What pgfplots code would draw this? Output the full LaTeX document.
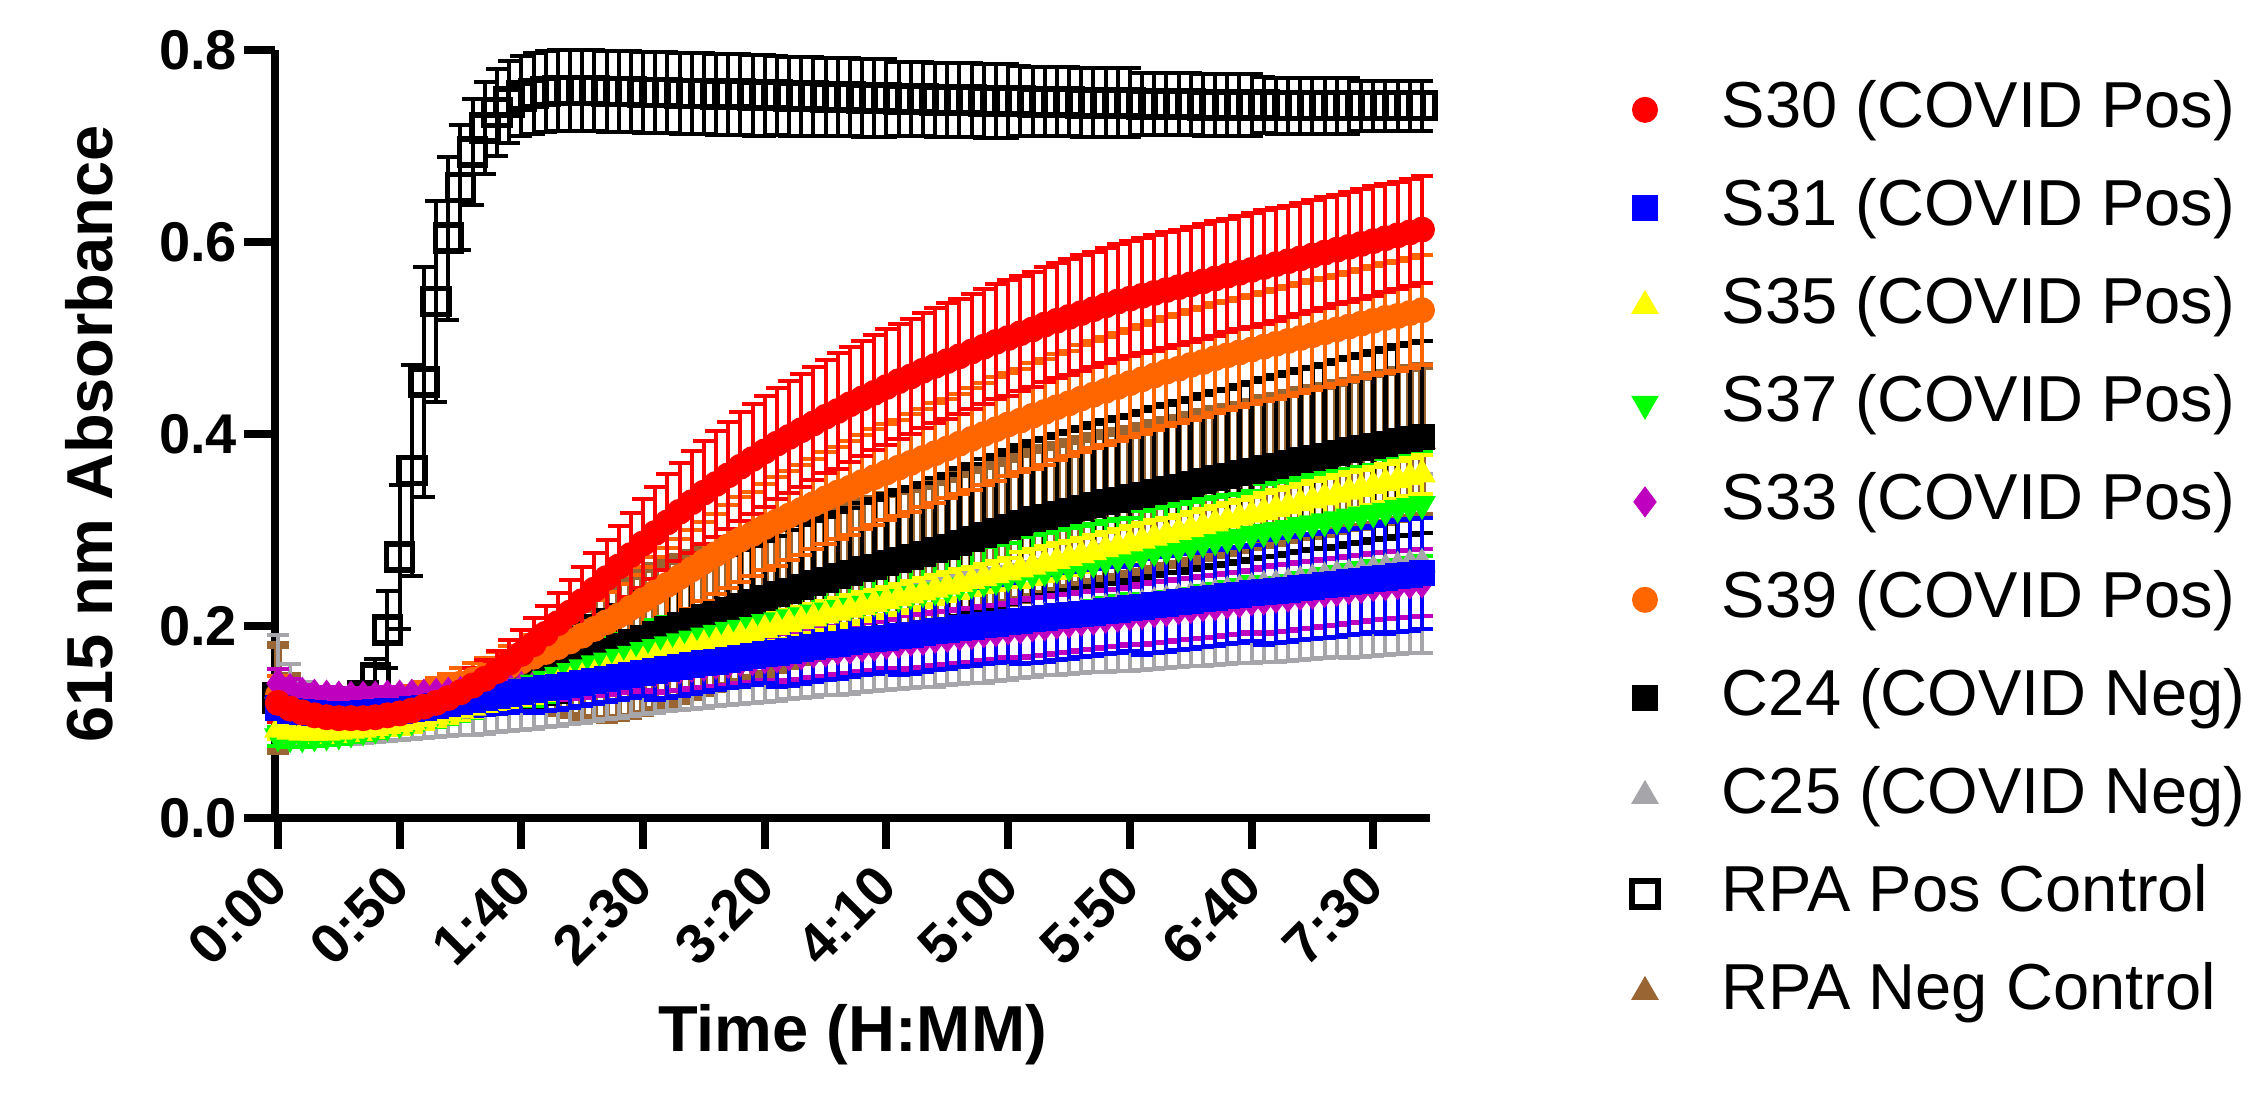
\documentclass[border=0pt]{standalone}
\usepackage{fontspec}
\setmainfont{Liberation Sans}
\usepackage{pgfplots}
\usepackage{pgfplotstable}
\pgfplotsset{compat=1.18}

\definecolor{cRed}{RGB}{255,0,0}
\definecolor{cBlue}{RGB}{0,0,255}
\definecolor{cYellow}{RGB}{255,255,0}
\definecolor{cGreen}{RGB}{0,255,0}
\definecolor{cMagenta}{RGB}{191,0,191}
\definecolor{cOrange}{RGB}{255,102,0}
\definecolor{cGrey}{RGB}{166,166,170}
\definecolor{cBrown}{RGB}{153,102,51}

% time (min), then mean and SD for each sample
\pgfplotstableread{
t R eR O eO K eK Y eY G eG B eB M eM A eA P eP N eN
0 0.120 0.020 0.128 0.020 0.118 0.015 0.092 0.010 0.085 0.010 0.115 0.010 0.140 0.015 0.133 0.058 0.125 0.030 0.125 0.055
5 0.114 0.014 0.125 0.014 0.115 0.013 0.090 0.010 0.084 0.010 0.112 0.010 0.135 0.010 0.118 0.042 0.121 0.020 0.118 0.030
10 0.110 0.010 0.122 0.010 0.113 0.012 0.089 0.010 0.084 0.010 0.110 0.010 0.131 0.008 0.110 0.032 0.118 0.015 0.113 0.020
15 0.107 0.010 0.120 0.010 0.111 0.012 0.089 0.010 0.085 0.010 0.109 0.010 0.129 0.008 0.106 0.028 0.116 0.012 0.111 0.015
20 0.105 0.010 0.119 0.010 0.110 0.012 0.089 0.010 0.086 0.010 0.108 0.010 0.128 0.008 0.104 0.026 0.115 0.010 0.110 0.012
25 0.104 0.010 0.118 0.010 0.110 0.012 0.090 0.010 0.087 0.010 0.108 0.010 0.127 0.008 0.104 0.027 0.116 0.010 0.110 0.012
30 0.104 0.010 0.118 0.010 0.110 0.012 0.091 0.010 0.089 0.010 0.108 0.010 0.127 0.008 0.104 0.027 0.119 0.010 0.110 0.012
35 0.104 0.010 0.119 0.010 0.110 0.012 0.092 0.010 0.091 0.010 0.109 0.010 0.127 0.008 0.105 0.027 0.127 0.012 0.110 0.012
40 0.105 0.010 0.120 0.010 0.111 0.012 0.094 0.010 0.093 0.010 0.110 0.010 0.127 0.008 0.106 0.027 0.146 0.020 0.111 0.012
45 0.107 0.010 0.122 0.010 0.112 0.012 0.096 0.010 0.096 0.010 0.111 0.010 0.128 0.008 0.107 0.027 0.196 0.040 0.112 0.012
50 0.109 0.010 0.124 0.010 0.114 0.012 0.098 0.010 0.099 0.010 0.112 0.010 0.128 0.008 0.108 0.027 0.272 0.075 0.114 0.012
55 0.112 0.011 0.127 0.011 0.116 0.013 0.100 0.010 0.102 0.011 0.114 0.012 0.129 0.008 0.110 0.028 0.362 0.110 0.116 0.012
60 0.116 0.012 0.130 0.012 0.118 0.014 0.103 0.010 0.106 0.012 0.115 0.013 0.129 0.008 0.111 0.028 0.454 0.120 0.118 0.012
65 0.120 0.013 0.133 0.013 0.120 0.015 0.106 0.010 0.109 0.014 0.117 0.014 0.130 0.010 0.113 0.029 0.538 0.105 0.120 0.013
70 0.125 0.015 0.136 0.014 0.123 0.016 0.109 0.010 0.113 0.015 0.119 0.015 0.131 0.011 0.115 0.030 0.604 0.085 0.122 0.014
75 0.131 0.016 0.140 0.016 0.126 0.018 0.112 0.010 0.117 0.016 0.121 0.016 0.132 0.012 0.117 0.031 0.657 0.065 0.125 0.015
80 0.138 0.018 0.144 0.018 0.129 0.020 0.115 0.010 0.121 0.017 0.123 0.017 0.133 0.013 0.119 0.032 0.694 0.055 0.128 0.017
85 0.145 0.020 0.148 0.019 0.132 0.022 0.118 0.010 0.125 0.018 0.125 0.018 0.134 0.013 0.121 0.033 0.719 0.048 0.131 0.019
90 0.153 0.021 0.153 0.020 0.136 0.025 0.121 0.010 0.129 0.019 0.127 0.019 0.135 0.014 0.123 0.033 0.735 0.045 0.134 0.022
95 0.162 0.023 0.158 0.021 0.140 0.027 0.125 0.010 0.133 0.020 0.129 0.020 0.136 0.015 0.125 0.034 0.746 0.043 0.137 0.025
100 0.171 0.025 0.163 0.022 0.144 0.030 0.128 0.010 0.137 0.020 0.131 0.020 0.137 0.015 0.127 0.035 0.752 0.042 0.140 0.028
105 0.181 0.027 0.168 0.023 0.148 0.032 0.132 0.012 0.141 0.024 0.133 0.024 0.138 0.018 0.129 0.036 0.755 0.042 0.144 0.032
110 0.192 0.029 0.173 0.025 0.152 0.033 0.135 0.012 0.145 0.024 0.135 0.024 0.139 0.018 0.131 0.036 0.757 0.042 0.148 0.037
115 0.203 0.031 0.178 0.026 0.156 0.035 0.139 0.012 0.149 0.024 0.137 0.024 0.141 0.018 0.133 0.037 0.758 0.042 0.152 0.043
120 0.214 0.034 0.184 0.027 0.161 0.037 0.142 0.012 0.153 0.024 0.139 0.024 0.142 0.018 0.135 0.037 0.758 0.042 0.157 0.050
125 0.226 0.036 0.190 0.029 0.165 0.038 0.146 0.012 0.157 0.024 0.141 0.024 0.143 0.018 0.137 0.038 0.758 0.042 0.161 0.057
130 0.238 0.038 0.197 0.030 0.170 0.040 0.149 0.012 0.161 0.024 0.143 0.024 0.145 0.018 0.139 0.038 0.758 0.042 0.166 0.063
135 0.250 0.040 0.204 0.031 0.174 0.042 0.153 0.012 0.164 0.024 0.145 0.024 0.146 0.018 0.141 0.038 0.757 0.042 0.170 0.068
140 0.262 0.042 0.211 0.033 0.179 0.043 0.156 0.012 0.168 0.024 0.147 0.024 0.148 0.018 0.143 0.039 0.757 0.042 0.175 0.071
145 0.274 0.044 0.219 0.034 0.183 0.045 0.160 0.012 0.171 0.024 0.149 0.024 0.149 0.018 0.145 0.039 0.757 0.042 0.179 0.073
150 0.286 0.046 0.227 0.035 0.188 0.047 0.163 0.012 0.175 0.024 0.151 0.024 0.151 0.018 0.147 0.039 0.756 0.042 0.184 0.075
155 0.297 0.048 0.235 0.037 0.192 0.048 0.167 0.012 0.178 0.028 0.153 0.030 0.152 0.022 0.149 0.040 0.756 0.042 0.188 0.075
160 0.308 0.050 0.243 0.038 0.197 0.050 0.170 0.012 0.181 0.028 0.155 0.030 0.154 0.022 0.151 0.040 0.756 0.042 0.193 0.075
165 0.319 0.051 0.251 0.040 0.201 0.052 0.173 0.012 0.184 0.028 0.157 0.030 0.155 0.022 0.153 0.040 0.755 0.042 0.197 0.075
170 0.329 0.053 0.259 0.041 0.205 0.053 0.177 0.012 0.187 0.028 0.159 0.030 0.157 0.022 0.155 0.041 0.755 0.042 0.201 0.075
175 0.339 0.054 0.267 0.041 0.209 0.054 0.180 0.012 0.190 0.028 0.161 0.030 0.158 0.022 0.157 0.042 0.755 0.042 0.205 0.075
180 0.348 0.055 0.275 0.042 0.213 0.055 0.183 0.012 0.193 0.028 0.163 0.030 0.160 0.022 0.159 0.042 0.754 0.042 0.209 0.075
185 0.357 0.056 0.283 0.043 0.217 0.057 0.186 0.012 0.196 0.028 0.165 0.030 0.161 0.022 0.161 0.043 0.754 0.042 0.213 0.075
190 0.366 0.057 0.290 0.044 0.221 0.058 0.189 0.012 0.198 0.028 0.167 0.030 0.163 0.022 0.163 0.044 0.754 0.042 0.217 0.075
195 0.374 0.057 0.296 0.044 0.225 0.059 0.192 0.012 0.201 0.028 0.169 0.030 0.164 0.022 0.164 0.044 0.753 0.042 0.221 0.075
200 0.382 0.058 0.303 0.045 0.229 0.060 0.196 0.012 0.204 0.028 0.171 0.030 0.166 0.022 0.166 0.045 0.753 0.042 0.225 0.075
205 0.390 0.058 0.309 0.046 0.233 0.061 0.199 0.015 0.206 0.032 0.172 0.036 0.167 0.025 0.168 0.046 0.753 0.041 0.229 0.075
210 0.397 0.058 0.315 0.046 0.237 0.063 0.202 0.015 0.209 0.032 0.174 0.036 0.169 0.025 0.170 0.046 0.752 0.041 0.233 0.075
215 0.404 0.059 0.321 0.047 0.241 0.064 0.205 0.015 0.211 0.032 0.176 0.036 0.170 0.025 0.172 0.047 0.752 0.041 0.237 0.075
220 0.411 0.059 0.327 0.047 0.245 0.065 0.208 0.015 0.214 0.032 0.178 0.036 0.172 0.025 0.174 0.048 0.752 0.041 0.241 0.075
225 0.418 0.059 0.333 0.048 0.248 0.066 0.211 0.015 0.216 0.032 0.180 0.036 0.173 0.025 0.176 0.048 0.751 0.041 0.244 0.075
230 0.424 0.060 0.339 0.048 0.252 0.067 0.214 0.015 0.219 0.032 0.181 0.036 0.175 0.025 0.177 0.049 0.751 0.041 0.248 0.075
235 0.431 0.060 0.344 0.049 0.255 0.068 0.217 0.015 0.221 0.032 0.183 0.036 0.176 0.025 0.179 0.050 0.751 0.041 0.251 0.075
240 0.437 0.060 0.350 0.049 0.259 0.069 0.220 0.015 0.223 0.032 0.185 0.036 0.178 0.025 0.181 0.050 0.750 0.041 0.255 0.075
245 0.443 0.060 0.355 0.050 0.262 0.070 0.223 0.015 0.226 0.032 0.186 0.036 0.179 0.025 0.183 0.051 0.750 0.041 0.258 0.075
250 0.449 0.060 0.360 0.050 0.266 0.071 0.226 0.015 0.228 0.032 0.188 0.036 0.181 0.025 0.185 0.052 0.750 0.041 0.262 0.075
255 0.455 0.060 0.365 0.050 0.269 0.072 0.229 0.015 0.230 0.036 0.190 0.041 0.182 0.028 0.187 0.053 0.749 0.039 0.265 0.075
260 0.460 0.060 0.370 0.051 0.272 0.073 0.232 0.015 0.233 0.036 0.191 0.041 0.184 0.028 0.188 0.053 0.749 0.039 0.268 0.075
265 0.466 0.060 0.375 0.051 0.275 0.074 0.235 0.015 0.235 0.036 0.193 0.041 0.185 0.028 0.190 0.054 0.749 0.039 0.271 0.075
270 0.471 0.060 0.380 0.052 0.279 0.075 0.238 0.015 0.237 0.036 0.195 0.041 0.187 0.028 0.192 0.055 0.748 0.039 0.275 0.075
275 0.476 0.060 0.385 0.052 0.282 0.076 0.241 0.015 0.239 0.036 0.196 0.041 0.188 0.028 0.194 0.055 0.748 0.039 0.278 0.075
280 0.481 0.060 0.390 0.052 0.287 0.077 0.244 0.015 0.242 0.036 0.198 0.041 0.190 0.028 0.196 0.056 0.748 0.039 0.283 0.075
285 0.486 0.060 0.395 0.053 0.291 0.078 0.247 0.015 0.244 0.036 0.199 0.041 0.191 0.028 0.198 0.057 0.748 0.039 0.287 0.075
290 0.491 0.060 0.400 0.053 0.295 0.079 0.250 0.015 0.246 0.036 0.201 0.041 0.193 0.028 0.199 0.058 0.747 0.039 0.291 0.075
295 0.496 0.060 0.405 0.054 0.299 0.079 0.253 0.015 0.248 0.036 0.202 0.041 0.194 0.028 0.201 0.058 0.747 0.039 0.295 0.075
300 0.500 0.060 0.410 0.054 0.303 0.080 0.256 0.015 0.251 0.036 0.204 0.041 0.196 0.028 0.203 0.059 0.747 0.039 0.299 0.075
305 0.505 0.060 0.414 0.054 0.307 0.081 0.259 0.018 0.253 0.040 0.205 0.045 0.197 0.030 0.205 0.059 0.747 0.036 0.303 0.076
310 0.509 0.060 0.419 0.055 0.311 0.082 0.262 0.018 0.255 0.040 0.207 0.045 0.199 0.030 0.207 0.060 0.746 0.036 0.307 0.076
315 0.514 0.060 0.423 0.055 0.314 0.082 0.265 0.018 0.257 0.040 0.208 0.045 0.200 0.030 0.209 0.060 0.746 0.036 0.310 0.076
320 0.518 0.060 0.428 0.055 0.317 0.083 0.268 0.018 0.260 0.040 0.210 0.045 0.202 0.030 0.210 0.061 0.746 0.036 0.313 0.076
325 0.522 0.060 0.432 0.055 0.320 0.083 0.271 0.018 0.262 0.040 0.211 0.045 0.203 0.030 0.212 0.062 0.746 0.036 0.316 0.076
330 0.526 0.060 0.437 0.056 0.323 0.084 0.274 0.018 0.264 0.040 0.213 0.045 0.205 0.030 0.214 0.063 0.745 0.036 0.319 0.076
335 0.530 0.060 0.441 0.056 0.326 0.085 0.277 0.018 0.266 0.040 0.214 0.045 0.206 0.030 0.216 0.064 0.745 0.036 0.322 0.076
340 0.534 0.060 0.445 0.056 0.329 0.085 0.280 0.018 0.269 0.040 0.216 0.045 0.208 0.030 0.218 0.066 0.745 0.036 0.325 0.076
345 0.538 0.060 0.449 0.056 0.331 0.086 0.283 0.018 0.271 0.040 0.217 0.045 0.209 0.030 0.220 0.067 0.745 0.036 0.327 0.076
350 0.541 0.060 0.453 0.056 0.334 0.086 0.286 0.018 0.273 0.040 0.219 0.045 0.211 0.030 0.221 0.068 0.745 0.036 0.330 0.076
355 0.544 0.060 0.457 0.057 0.337 0.087 0.289 0.018 0.275 0.045 0.220 0.050 0.212 0.032 0.223 0.069 0.744 0.032 0.333 0.076
360 0.547 0.060 0.461 0.057 0.340 0.088 0.292 0.018 0.278 0.045 0.222 0.050 0.214 0.032 0.225 0.070 0.744 0.032 0.336 0.076
365 0.550 0.060 0.465 0.057 0.343 0.088 0.295 0.018 0.280 0.045 0.223 0.050 0.215 0.032 0.227 0.071 0.744 0.032 0.339 0.076
370 0.553 0.060 0.468 0.057 0.345 0.089 0.298 0.018 0.282 0.045 0.225 0.050 0.217 0.032 0.229 0.072 0.744 0.032 0.341 0.076
375 0.556 0.060 0.472 0.057 0.348 0.089 0.301 0.018 0.284 0.045 0.226 0.050 0.218 0.032 0.231 0.073 0.744 0.032 0.344 0.076
380 0.559 0.060 0.475 0.057 0.351 0.090 0.304 0.018 0.287 0.045 0.228 0.050 0.220 0.032 0.232 0.074 0.743 0.032 0.347 0.076
385 0.562 0.060 0.479 0.057 0.354 0.091 0.307 0.018 0.289 0.045 0.229 0.050 0.221 0.032 0.234 0.075 0.743 0.032 0.350 0.076
390 0.565 0.059 0.482 0.057 0.356 0.091 0.310 0.018 0.291 0.045 0.231 0.050 0.223 0.032 0.236 0.076 0.743 0.032 0.352 0.076
395 0.568 0.059 0.485 0.057 0.359 0.092 0.313 0.018 0.293 0.045 0.232 0.050 0.224 0.032 0.238 0.077 0.743 0.032 0.355 0.076
400 0.571 0.059 0.488 0.057 0.362 0.092 0.316 0.018 0.296 0.045 0.234 0.050 0.226 0.032 0.240 0.078 0.743 0.032 0.358 0.076
405 0.574 0.059 0.491 0.057 0.365 0.093 0.319 0.020 0.298 0.050 0.235 0.055 0.227 0.035 0.242 0.079 0.743 0.029 0.361 0.077
410 0.577 0.059 0.494 0.057 0.367 0.094 0.322 0.020 0.300 0.050 0.237 0.055 0.229 0.035 0.243 0.080 0.742 0.029 0.363 0.077
415 0.580 0.058 0.497 0.057 0.370 0.094 0.325 0.020 0.302 0.050 0.238 0.055 0.230 0.035 0.245 0.081 0.742 0.029 0.366 0.077
420 0.583 0.058 0.500 0.057 0.373 0.095 0.328 0.020 0.305 0.050 0.240 0.055 0.232 0.035 0.247 0.082 0.742 0.029 0.369 0.077
425 0.586 0.058 0.503 0.057 0.375 0.095 0.331 0.020 0.307 0.050 0.241 0.055 0.233 0.035 0.249 0.083 0.742 0.029 0.371 0.077
430 0.589 0.058 0.506 0.057 0.377 0.096 0.334 0.020 0.309 0.050 0.243 0.055 0.235 0.035 0.251 0.084 0.742 0.029 0.373 0.077
435 0.592 0.057 0.509 0.057 0.380 0.097 0.337 0.020 0.311 0.050 0.244 0.055 0.236 0.035 0.253 0.085 0.742 0.029 0.376 0.077
440 0.595 0.057 0.512 0.057 0.383 0.097 0.340 0.020 0.314 0.050 0.246 0.055 0.238 0.035 0.254 0.087 0.742 0.029 0.379 0.077
445 0.598 0.057 0.515 0.057 0.385 0.098 0.343 0.020 0.316 0.050 0.247 0.055 0.239 0.035 0.256 0.088 0.742 0.026 0.381 0.078
450 0.601 0.057 0.518 0.057 0.388 0.098 0.346 0.020 0.318 0.050 0.249 0.055 0.241 0.035 0.258 0.089 0.742 0.026 0.384 0.078
455 0.604 0.056 0.521 0.057 0.390 0.099 0.349 0.020 0.320 0.054 0.250 0.058 0.242 0.035 0.260 0.090 0.742 0.026 0.386 0.078
460 0.607 0.056 0.523 0.057 0.393 0.099 0.352 0.020 0.323 0.054 0.252 0.058 0.243 0.035 0.262 0.091 0.742 0.026 0.389 0.078
465 0.610 0.056 0.526 0.057 0.395 0.100 0.355 0.020 0.325 0.054 0.253 0.058 0.244 0.035 0.264 0.092 0.742 0.026 0.391 0.078
470 0.613 0.056 0.529 0.057 0.397 0.100 0.358 0.020 0.327 0.054 0.255 0.058 0.245 0.035 0.265 0.093 0.742 0.026 0.393 0.078
}\datatable

\begin{document}
\begin{tikzpicture}
\begin{axis}[
  width=231pt, height=153.6pt, scale only axis,
  xmin=-1.2, xmax=473.3, ymin=0, ymax=0.8,
  axis x line*=bottom, axis y line*=left,
  axis line style={line width=1.6pt, -},
  tick align=outside, major tick length=6.2pt,
  every tick/.style={black, line width=1.6pt},
  xtick={0,50,100,150,200,250,300,350,400,450},
  xticklabels={0:00,0:50,1:40,2:30,3:20,4:10,5:00,5:50,6:40,7:30},
  ytick={0,0.2,0.4,0.6,0.8},
  yticklabels={0.0,0.2,0.4,0.6,0.8},
  ticklabel style={font=\fontsize{11.2}{13}\selectfont\bfseries},
  xticklabel shift=5.2pt,
  xticklabel style={rotate=45, anchor=east, inner sep=0pt},
  yticklabel style={xshift=-1.2pt, anchor=east, inner sep=0pt},
  xlabel={Time (H:MM)}, ylabel={615 nm Absorbance},
  label style={font=\fontsize{13}{15}\selectfont\bfseries},
  xlabel style={at={(axis description cs:0.5,-0.282)}, anchor=center},
  ylabel style={at={(axis description cs:-0.161,0.5)}, anchor=center},
  clip=false,
  reverse legend,
  legend cell align=left,
  legend style={at={(axis description cs:1.174,0.9645)}, anchor=north west,
    draw=none, fill=none, inner sep=0pt,
    font=\fontsize{13}{13}\selectfont, row sep=7pt,
    nodes={inner sep=0pt, text height=9.8pt, text depth=2.8pt},
    /tikz/every odd column/.append style={column sep=12.8pt}},
  ebar/.style={only marks,
    error bars/y dir=both, error bars/y explicit,
    error bars/error bar style={line width=#1},
    error bars/error mark options={rotate=90, line width=#1, mark size=2.2pt}},
  ebar/.default=0.8pt,
]
\addplot[color=cBrown, mark=triangle*, mark size=2.8pt, ebar=1.5pt]
  table[x=t, y=N, y error=eN] {\datatable};
\addlegendentry{RPA Neg Control}
\addplot[color=black, mark=square, mark size=2.6pt, mark options={line width=1.1pt}, ebar]
  table[x=t, y=P, y error=eP] {\datatable};
\addlegendentry{RPA Pos Control}
\addplot[color=cGrey, mark=triangle*, mark size=2.8pt, ebar]
  table[x=t, y=A, y error=eA] {\datatable};
\addlegendentry{C25 (COVID Neg)}
\addplot[color=black, mark=square*, mark size=2.4pt, ebar=0.9pt]
  table[x=t, y=K, y error=eK] {\datatable};
\addlegendentry{C24 (COVID Neg)}
\addplot[color=cOrange, mark=*, mark size=2.4pt, ebar]
  table[x=t, y=O, y error=eO] {\datatable};
\addlegendentry{S39 (COVID Pos)}
\addplot[color=cMagenta, mark=diamond*, mark size=2.8pt, ebar]
  table[x=t, y=M, y error=eM] {\datatable};
\addlegendentry{S33 (COVID Pos)}
\addplot[color=cGreen, mark=triangle*, mark size=2.8pt, mark options={rotate=180}, ebar]
  table[x=t, y=G, y error=eG] {\datatable};
\addlegendentry{S37 (COVID Pos)}
\addplot[color=cYellow, mark=triangle*, mark size=2.8pt, ebar]
  table[x=t, y=Y, y error=eY] {\datatable};
\addlegendentry{S35 (COVID Pos)}
\addplot[color=cBlue, mark=square*, mark size=2.4pt, ebar]
  table[x=t, y=B, y error=eB] {\datatable};
\addlegendentry{S31 (COVID Pos)}
\addplot[color=cRed, mark=*, mark size=2.4pt, ebar]
  table[x=t, y=R, y error=eR] {\datatable};
\addlegendentry{S30 (COVID Pos)}
\end{axis}
\pgfresetboundingbox
\path[use as bounding box] (-55pt,-57.2pt) rectangle (394.6pt,163.6pt);
\end{tikzpicture}
\end{document}
